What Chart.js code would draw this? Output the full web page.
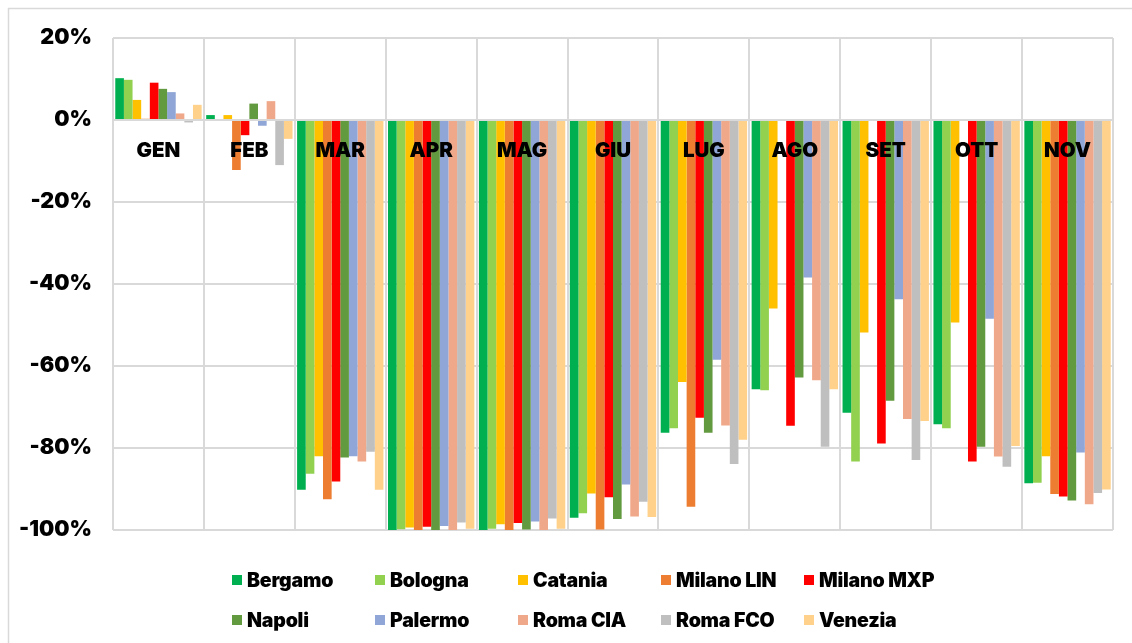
<!DOCTYPE html>
<html lang="it">
  <head>
    <meta charset="UTF-8" />
    <script src="https://cdn.jsdelivr.net/npm/chart.js@4.4.0/dist/chart.umd.min.js"></script>
    <title>Traffico aeroporti</title>
    <style>
      body { margin: 0; background: #fff; }
      #wrap { position: relative; width: 1132px; height: 643px; }
      #legend {
        position: absolute; left: 232px; top: 566px;
        display: grid; grid-template-columns: repeat(5, 143px);
        row-gap: 12px;
        font-family: Inter, Roboto, sans-serif; font-weight: 900; font-size: 19.5px;
        letter-spacing: -0.2px;
      }
      #legend div { display: flex; align-items: center; height: 28px; white-space: nowrap; }
      #legend span.box { width: 10px; height: 10px; margin-right: 5px; display: inline-block; }
    </style>
  </head>
  <body>
    <div id="wrap">
      <canvas id="myChart" width="1132" height="643"></canvas>
      <div id="legend"></div>
    </div>
    <script>
      const mesi = ["GEN", "FEB", "MAR", "APR", "MAG", "GIU", "LUG", "AGO", "SET", "OTT", "NOV"];
      const yTicks = [20, 0, -20, -40, -60, -80, -100];

      const bergamo = [10.2, 1.2, -90.2, -100, -100, -97.0, -76.3, -65.7, -71.4, -74.2, -88.6];
      const bologna = [9.8, 0.2, -86.3, -99.8, -99.7, -95.9, -75.2, -65.9, -83.3, -75.2, -88.5];
      const catania = [4.9, 1.2, -82.0, -99.4, -98.6, -91.1, -63.9, -46.0, -51.8, -49.4, -82.0];
      const milanoLin = [0.3, -12.2, -92.5, -100, -100, -99.9, -94.3, null, null, null, -91.2];
      const milanoMxp = [9.1, -3.7, -88.2, -99.2, -98.3, -92.0, -72.6, -74.6, -78.9, -83.3, -91.8];
      const napoli = [7.6, 4.0, -82.3, -100, -99.9, -97.3, -76.3, -62.8, -68.5, -79.7, -92.8];
      const palermo = [6.8, -1.4, -82.0, -99.0, -97.9, -88.9, -58.5, -38.4, -43.7, -48.5, -81.1];
      const romaCia = [1.6, 4.6, -83.3, -100, -100, -96.7, -74.5, -63.5, -72.9, -82.1, -93.7];
      const romaFco = [-0.6, -11.0, -80.9, -98.2, -97.2, -93.1, -83.9, -79.7, -82.9, -84.6, -91.0];
      const venezia = [3.7, -4.6, -90.2, -99.7, -99.7, -96.8, -78.0, -65.7, -73.4, -79.5, -90.1];

      const serie = [
        ["Bergamo", bergamo, "#00b050"],
        ["Bologna", bologna, "#92d050"],
        ["Catania", catania, "#ffc000"],
        ["Milano LIN", milanoLin, "#ed7d31"],
        ["Milano MXP", milanoMxp, "#ff0000"],
        ["Napoli", napoli, "#629a3f"],
        ["Palermo", palermo, "#8fa6d6"],
        ["Roma CIA", romaCia, "#f0a88a"],
        ["Roma FCO", romaFco, "#bfbfbf"],
        ["Venezia", venezia, "#ffd18a"],
      ];

      const fam = "Inter, Roboto, sans-serif";
      const gridCol = "#d9d9d9";

      // cornice esterna dell'area grafico
      const frame = {
        id: "frame",
        beforeDraw(chart) {
          const c = chart.ctx;
          c.save();
          c.strokeStyle = gridCol;
          c.lineWidth = 1.5;
          c.strokeRect(8.5, 8.5, 1300, 1300);
          c.restore();
        },
      };

      const chart = new Chart(document.getElementById("myChart"), {
        type: "bar",
        data: {
          labels: mesi,
          datasets: serie.map(([nome, dati, col]) => ({
            label: nome,
            data: dati,
            backgroundColor: col,
            borderWidth: 0,
            categoryPercentage: 0.95,
            barPercentage: 1,
          })),
        },
        options: {
          responsive: false,
          animation: false,
          layout: { padding: { left: 10, top: 38, right: 19, bottom: 113 } },
          plugins: { legend: { display: false }, tooltip: { enabled: false } },
          scales: {
            x: {
              position: { y: 0 },
              afterFit: (s) => { s.height = 0; },
              grid: { color: gridCol, lineWidth: 2, drawTicks: false, offset: true },
              border: { color: gridCol, width: 2, z: 1 },
              ticks: {
                z: 2,
                padding: 19,
                color: "#000",
                font: { family: fam, size: 20.5, weight: 900 },
              },
            },
            y: {
              min: -100,
              max: 20,
              afterFit: (s) => { s.width = 103; },
              afterBuildTicks: (s) => { s.ticks = yTicks.map((v) => ({ value: v })); },
              grid: { color: gridCol, lineWidth: 2, drawTicks: false },
              border: { display: false },
              ticks: {
                padding: 21,
                color: "#000",
                font: { family: fam, size: 21.5, weight: 900 },
                callback: (v) => v + "%",
              },
            },
          },
        },
        plugins: [frame],
      });

      const leg = document.getElementById("legend");
      chart.data.datasets.forEach((ds) => {
        const d = document.createElement("div");
        d.innerHTML = '<span class="box" style="background:' + ds.backgroundColor + '"></span>' + ds.label;
        leg.appendChild(d);
      });
    </script>
  </body>
</html>
